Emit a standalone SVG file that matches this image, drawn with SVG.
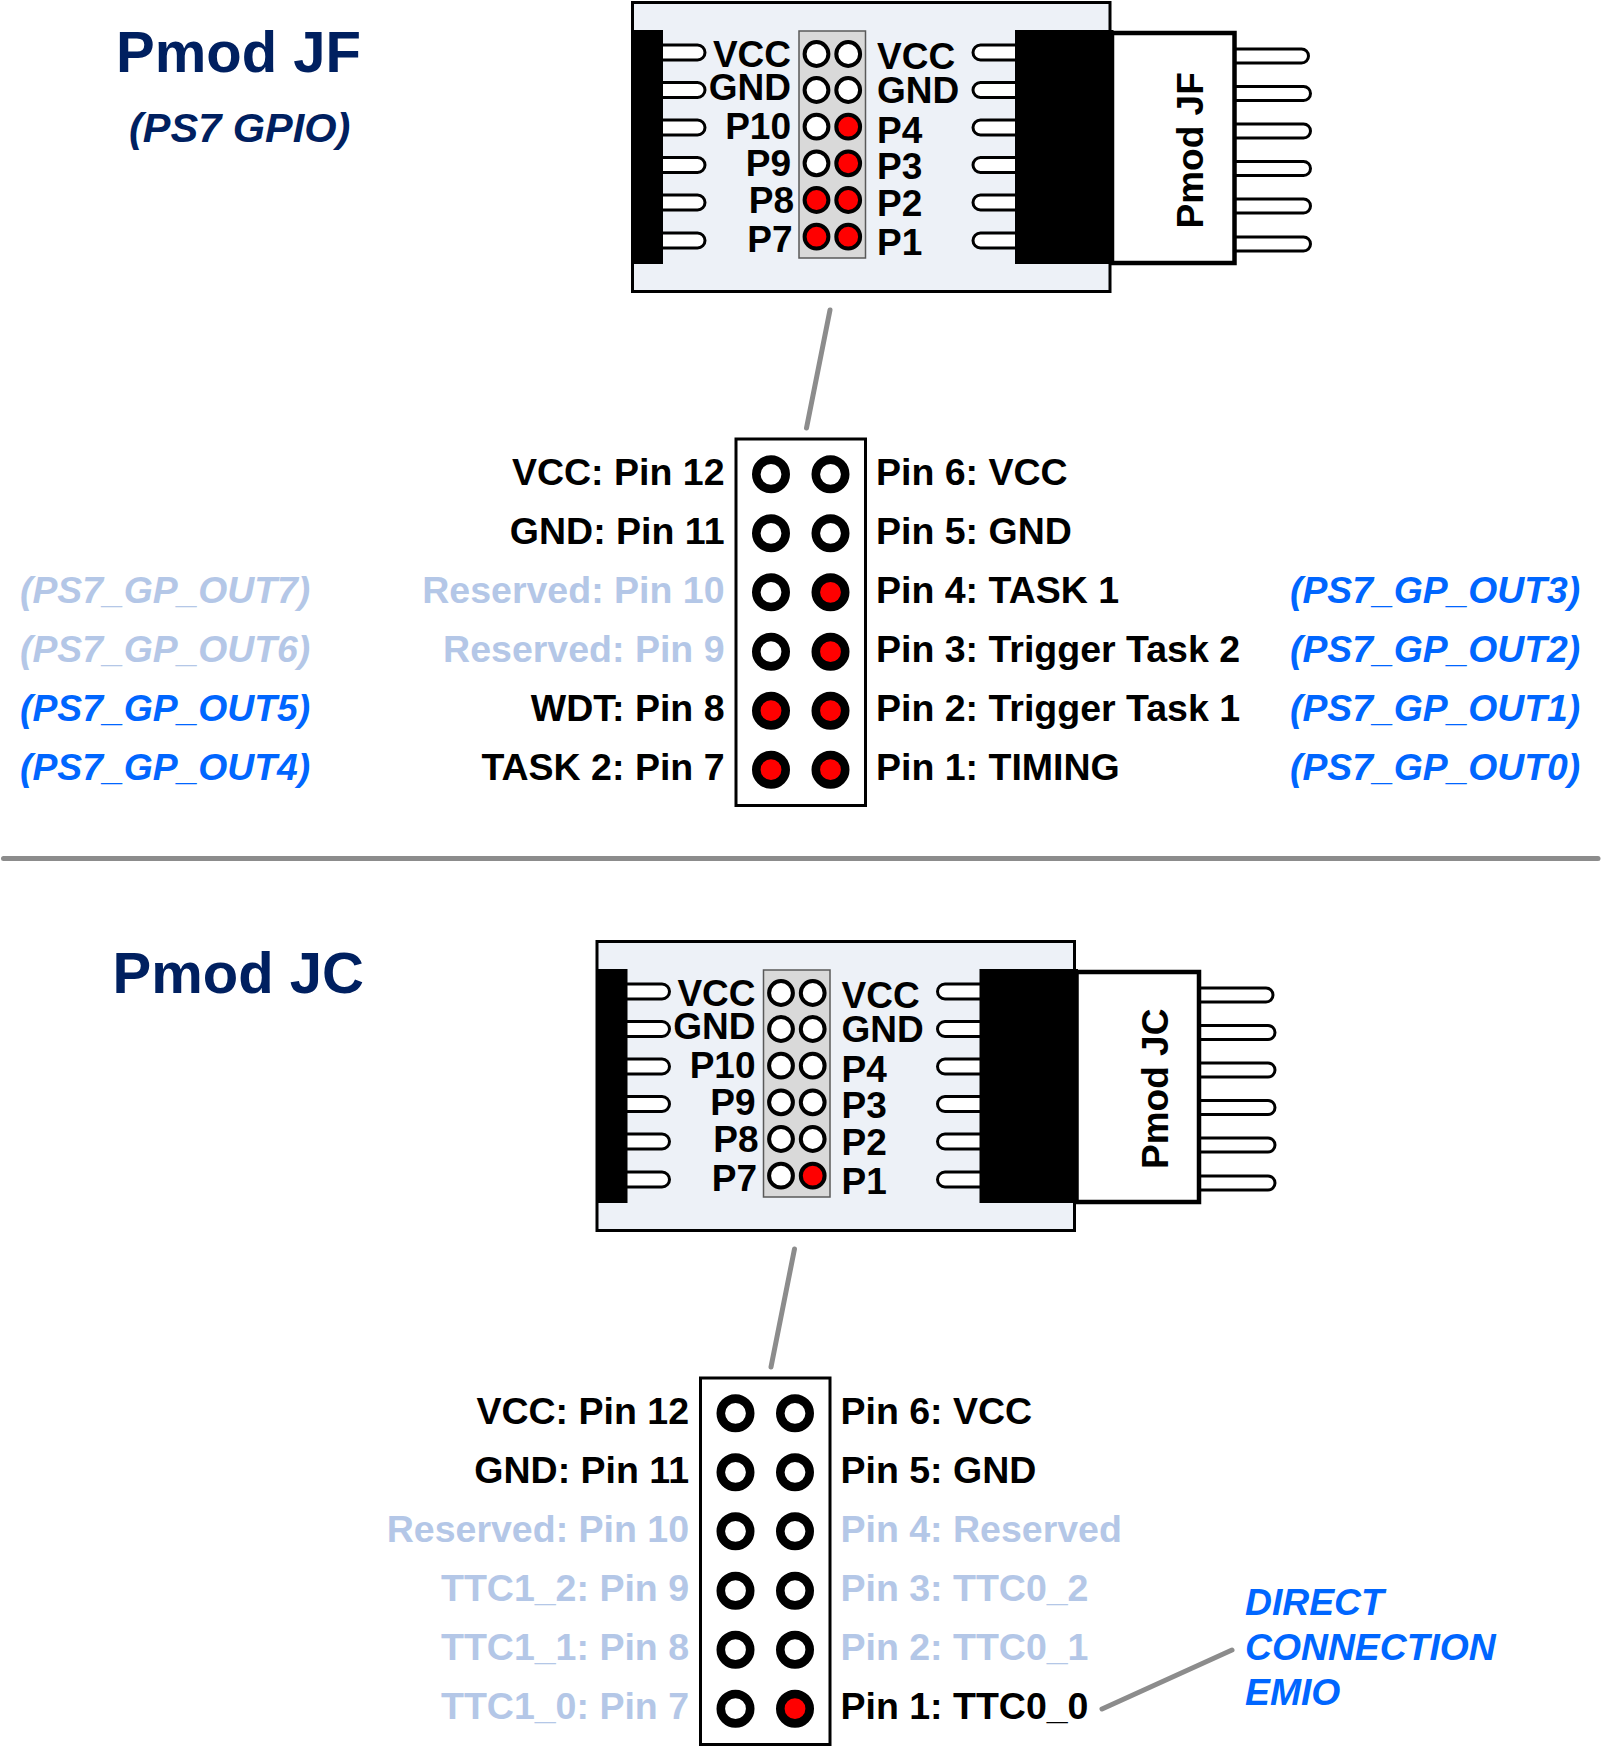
<svg xmlns="http://www.w3.org/2000/svg" width="1601" height="1746" viewBox="0 0 1601 1746">
<style>
text{font-family:"Liberation Sans",Arial,sans-serif;font-weight:700}
.title{font-size:58px;fill:#002060}
.sub{font-size:41.5px;fill:#002060;font-style:italic}
.lbl{font-size:37.500px;fill:#000}
.sm{font-size:37px;fill:#000}
.rot{font-size:37px;fill:#000}
.off{fill:#b4c7e7}
.blue{font-size:37.300px;fill:#0066ff;font-style:italic}
.faint{font-size:37.300px;fill:#b4c7e7;font-style:italic}
.end{text-anchor:end}
.board{fill:#edf1f7;stroke:#000;stroke-width:3}
.hdr{fill:#d9d9d9;stroke:#595959;stroke-width:1.5}
.pin{fill:#fff;stroke:#000;stroke-width:3}
.blk{fill:#000}
.box{fill:#fff;stroke:#000;stroke-width:4.5}
.frame{fill:#fff;stroke:#000;stroke-width:3}
.s0{fill:#fff;stroke:#000;stroke-width:4}
.s1{fill:#f00;stroke:#000;stroke-width:4}
.b0{fill:#fff;stroke:#000;stroke-width:8.600}
.b1{fill:#f00;stroke:#000;stroke-width:8.600}
.conn{fill:none;stroke:#8c8c8c;stroke-width:5;stroke-linecap:round}
</style>
<defs>
<g id="shell">
<rect class="board" x="632.5" y="2.5" width="477.5" height="289"/>
<rect class="pin" x="650" y="45" width="55" height="15" rx="7.5"/>
<rect class="pin" x="650" y="82.500" width="55" height="15" rx="7.5"/>
<rect class="pin" x="650" y="120" width="55" height="15" rx="7.5"/>
<rect class="pin" x="650" y="157.500" width="55" height="15" rx="7.5"/>
<rect class="pin" x="650" y="195" width="55" height="15" rx="7.5"/>
<rect class="pin" x="650" y="233" width="55" height="15" rx="7.5"/>
<rect class="blk" x="631.500" y="30" width="31.500" height="234"/>
<rect class="pin" x="973" y="45" width="55" height="15" rx="7.5"/>
<rect class="pin" x="973" y="82.500" width="55" height="15" rx="7.5"/>
<rect class="pin" x="973" y="120" width="55" height="15" rx="7.5"/>
<rect class="pin" x="973" y="157.500" width="55" height="15" rx="7.5"/>
<rect class="pin" x="973" y="195" width="55" height="15" rx="7.5"/>
<rect class="pin" x="973" y="233" width="55" height="15" rx="7.5"/>
<rect class="pin" x="1220" y="49" width="88.500" height="14" rx="7"/>
<rect class="pin" x="1220" y="86.500" width="90.500" height="14" rx="7"/>
<rect class="pin" x="1220" y="124" width="90.500" height="14" rx="7"/>
<rect class="pin" x="1220" y="161.500" width="90.500" height="14" rx="7"/>
<rect class="pin" x="1220" y="199" width="90.500" height="14" rx="7"/>
<rect class="pin" x="1220" y="237" width="90.500" height="14" rx="7"/>
<rect class="box" x="1112" y="33" width="122.500" height="230"/>
<rect class="blk" x="1015" y="30" width="98.500" height="234"/>
<rect class="hdr" x="799" y="31" width="66.500" height="227"/>
<text class="sm end" x="791" y="66.500">VCC</text>
<text class="sm end" x="791" y="99.800">GND</text>
<text class="sm end" x="791" y="139">P10</text>
<text class="sm end" x="791" y="175.800">P9</text>
<text class="sm end" x="794" y="212.500">P8</text>
<text class="sm end" x="792.500" y="251.500">P7</text>
<text class="sm" x="877" y="69">VCC</text>
<text class="sm" x="877" y="102.500">GND</text>
<text class="sm" x="877" y="142.500">P4</text>
<text class="sm" x="877" y="179">P3</text>
<text class="sm" x="877" y="215.800">P2</text>
<text class="sm" x="877" y="254.800">P1</text>
</g>
</defs>

<g id="title-jf">
<text class="title" x="116" y="72.300">Pmod JF</text>
<text class="sub" x="129" y="142.300">(PS7 GPIO)</text>
</g>

<g id="board-jf">
<use href="#shell"/>
<text class="rot" transform="translate(1203 228.500) rotate(-90)">Pmod JF</text>
<circle class="s0" cx="816.500" cy="54" r="11.900"/><circle class="s0" cx="848.200" cy="54" r="11.900"/>
<circle class="s0" cx="816.500" cy="90" r="11.900"/><circle class="s0" cx="848.200" cy="90" r="11.900"/>
<circle class="s0" cx="816.500" cy="126.700" r="11.900"/><circle class="s1" cx="848.200" cy="126.700" r="11.900"/>
<circle class="s0" cx="816.500" cy="163.300" r="11.900"/><circle class="s1" cx="848.200" cy="163.300" r="11.900"/>
<circle class="s1" cx="816.500" cy="200" r="11.900"/><circle class="s1" cx="848.200" cy="200" r="11.900"/>
<circle class="s1" cx="816.500" cy="236.700" r="11.900"/><circle class="s1" cx="848.200" cy="236.700" r="11.900"/>
</g>

<g id="header-jf">
<rect class="frame" x="736" y="439" width="129.500" height="366.500"/>
<circle class="b0" cx="771" cy="474.300" r="14.700"/><circle class="b0" cx="830.500" cy="474.300" r="14.700"/>
<circle class="b0" cx="771" cy="533.300" r="14.700"/><circle class="b0" cx="830.500" cy="533.300" r="14.700"/>
<circle class="b0" cx="771" cy="592.300" r="14.700"/><circle class="b1" cx="830.500" cy="592.300" r="14.700"/>
<circle class="b0" cx="771" cy="651.700" r="14.700"/><circle class="b1" cx="830.500" cy="651.700" r="14.700"/>
<circle class="b1" cx="771" cy="710.700" r="14.700"/><circle class="b1" cx="830.500" cy="710.700" r="14.700"/>
<circle class="b1" cx="771" cy="769.700" r="14.700"/><circle class="b1" cx="830.500" cy="769.700" r="14.700"/>
<text class="lbl end" x="724.500" y="485">VCC: Pin 12</text>
<text class="lbl end" x="724.500" y="543.800">GND: Pin 11</text>
<text class="lbl off end" x="724.500" y="602.800">Reserved: Pin 10</text>
<text class="lbl off end" x="724.500" y="662">Reserved: Pin 9</text>
<text class="lbl end" x="724.500" y="721">WDT: Pin 8</text>
<text class="lbl end" x="724.500" y="780.300">TASK 2: Pin 7</text>
<text class="lbl" x="876" y="485">Pin 6: VCC</text>
<text class="lbl" x="876" y="543.800">Pin 5: GND</text>
<text class="lbl" x="876" y="602.800">Pin 4: TASK 1</text>
<text class="lbl" x="876" y="662">Pin 3: Trigger Task 2</text>
<text class="lbl" x="876" y="721">Pin 2: Trigger Task 1</text>
<text class="lbl" x="876" y="780.300">Pin 1: TIMING</text>
<text class="faint" x="20" y="602.800">(PS7_GP_OUT7)</text>
<text class="faint" x="20" y="662">(PS7_GP_OUT6)</text>
<text class="blue" x="20" y="721">(PS7_GP_OUT5)</text>
<text class="blue" x="20" y="780.300">(PS7_GP_OUT4)</text>
<text class="blue" x="1290" y="602.800">(PS7_GP_OUT3)</text>
<text class="blue" x="1290" y="662">(PS7_GP_OUT2)</text>
<text class="blue" x="1290" y="721">(PS7_GP_OUT1)</text>
<text class="blue" x="1290" y="780.300">(PS7_GP_OUT0)</text>
</g>

<g id="title-jc">
<text class="title" x="112.500" y="993">Pmod JC</text>
</g>

<g id="board-jc" transform="translate(-35.500 939)">
<use href="#shell"/>
<text class="rot" transform="translate(1203 230) rotate(-90)">Pmod JC</text>
<circle class="s0" cx="816.500" cy="54" r="11.900"/><circle class="s0" cx="848.200" cy="54" r="11.900"/>
<circle class="s0" cx="816.500" cy="90" r="11.900"/><circle class="s0" cx="848.200" cy="90" r="11.900"/>
<circle class="s0" cx="816.500" cy="126.700" r="11.900"/><circle class="s0" cx="848.200" cy="126.700" r="11.900"/>
<circle class="s0" cx="816.500" cy="163.300" r="11.900"/><circle class="s0" cx="848.200" cy="163.300" r="11.900"/>
<circle class="s0" cx="816.500" cy="200" r="11.900"/><circle class="s0" cx="848.200" cy="200" r="11.900"/>
<circle class="s0" cx="816.500" cy="236.700" r="11.900"/><circle class="s1" cx="848.200" cy="236.700" r="11.900"/>
</g>

<g id="header-jc" transform="translate(-35.500 939)">
<rect class="frame" x="736" y="439" width="129.500" height="366.500"/>
<circle class="b0" cx="771" cy="474.300" r="14.700"/><circle class="b0" cx="830.500" cy="474.300" r="14.700"/>
<circle class="b0" cx="771" cy="533.300" r="14.700"/><circle class="b0" cx="830.500" cy="533.300" r="14.700"/>
<circle class="b0" cx="771" cy="592.300" r="14.700"/><circle class="b0" cx="830.500" cy="592.300" r="14.700"/>
<circle class="b0" cx="771" cy="651.700" r="14.700"/><circle class="b0" cx="830.500" cy="651.700" r="14.700"/>
<circle class="b0" cx="771" cy="710.700" r="14.700"/><circle class="b0" cx="830.500" cy="710.700" r="14.700"/>
<circle class="b0" cx="771" cy="769.700" r="14.700"/><circle class="b1" cx="830.500" cy="769.700" r="14.700"/>
<text class="lbl end" x="724.500" y="485">VCC: Pin 12</text>
<text class="lbl end" x="724.500" y="543.800">GND: Pin 11</text>
<text class="lbl off end" x="724.500" y="602.800">Reserved: Pin 10</text>
<text class="lbl off end" x="724.500" y="662">TTC1_2: Pin 9</text>
<text class="lbl off end" x="724.500" y="721">TTC1_1: Pin 8</text>
<text class="lbl off end" x="724.500" y="780.300">TTC1_0: Pin 7</text>
<text class="lbl" x="876" y="485">Pin 6: VCC</text>
<text class="lbl" x="876" y="543.800">Pin 5: GND</text>
<text class="lbl off" x="876" y="602.800">Pin 4: Reserved</text>
<text class="lbl off" x="876" y="662">Pin 3: TTC0_2</text>
<text class="lbl off" x="876" y="721">Pin 2: TTC0_1</text>
<text class="lbl" x="876" y="780.300">Pin 1: TTC0_0</text>
</g>

<g id="note-emio">
<text class="blue" x="1245" y="1615">DIRECT</text>
<text class="blue" x="1245" y="1660">CONNECTION</text>
<text class="blue" x="1245" y="1705">EMIO</text>
</g>

<g id="connectors">
<line class="conn" x1="830" y1="310" x2="806.500" y2="428"/>
<line class="conn" x1="3.500" y1="858.500" x2="1598" y2="858.500"/>
<line class="conn" x1="794.500" y1="1249" x2="771" y2="1367"/>
<line class="conn" x1="1102" y1="1709" x2="1232" y2="1650"/>
</g>
</svg>
